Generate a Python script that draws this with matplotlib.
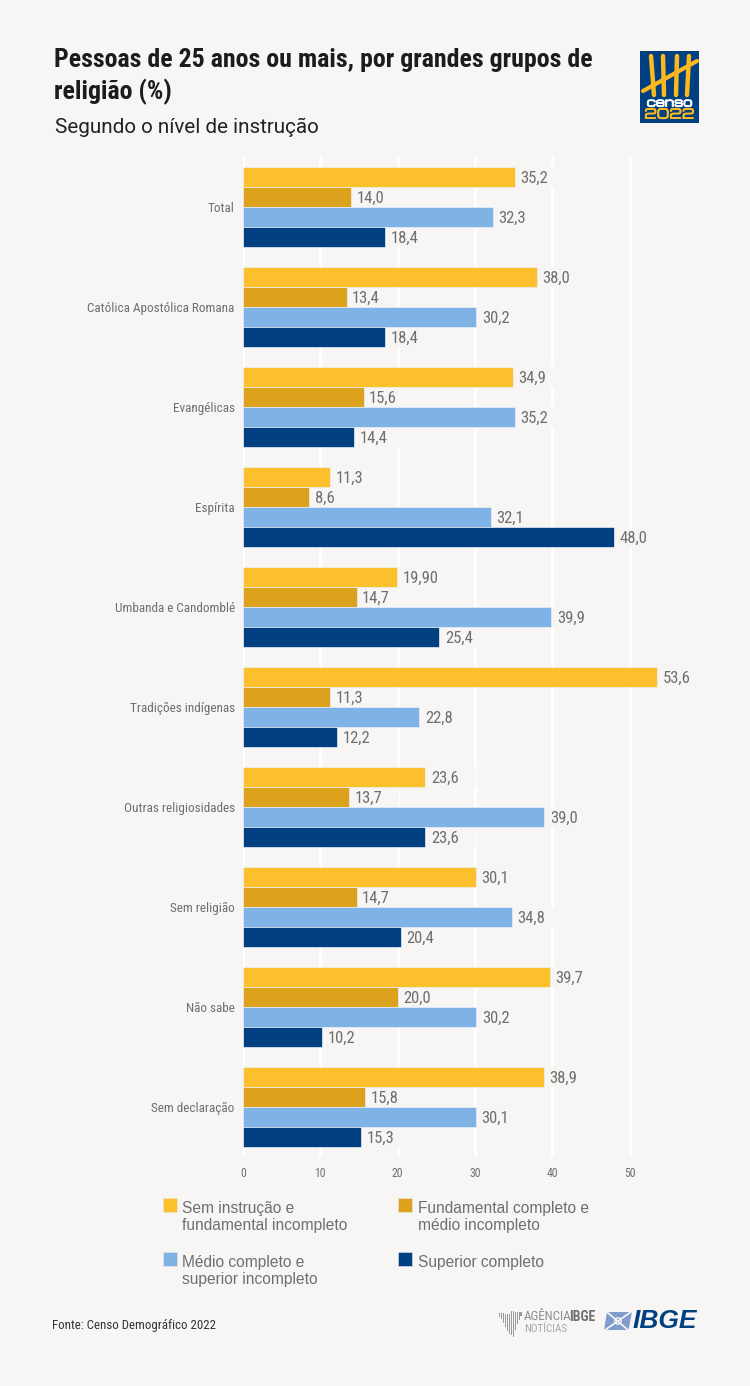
import matplotlib
matplotlib.use("Agg")
import matplotlib.pyplot as plt
import matplotlib.patheffects as pe
from matplotlib.patches import Rectangle, Polygon, Circle
import numpy as np

W, H = 750, 1386
BG = "#F7F6F4"
GREY = "#6F6F6F"

categories = ["Total", "Católica Apostólica Romana", "Evangélicas", "Espírita",
              "Umbanda e Candomblé", "Tradições indígenas", "Outras religiosidades",
              "Sem religião", "Não sabe", "Sem declaração"]
sem_instrucao = [35.2, 38.0, 34.9, 11.3, 19.9, 53.6, 23.6, 30.1, 39.7, 38.9]
fundamental = [14.0, 13.4, 15.6, 8.6, 14.7, 11.3, 13.7, 14.7, 20.0, 15.8]
medio = [32.3, 30.2, 35.2, 32.1, 39.9, 22.8, 39.0, 34.8, 30.2, 30.1]
superior = [18.4, 18.4, 14.4, 48.0, 25.4, 12.2, 23.6, 20.4, 10.2, 15.3]
series_names = ["Sem instrução e\nfundamental incompleto",
                "Fundamental completo e\nmédio incompleto",
                "Médio completo e\nsuperior incompleto",
                "Superior completo"]
series_colors = ["#FCC02D", "#DCA11D", "#7FB2E5", "#004080"]
x_ticks = [0, 10, 20, 30, 40, 50]

NARROW = ["Roboto Condensed", "Archivo Narrow", "Liberation Sans", "DejaVu Sans"]
WIDE = ["Liberation Sans", "DejaVu Sans"]

fig = plt.figure(figsize=(W / 100, H / 100), dpi=100, facecolor=BG)

def px_axes(l, t, r, b):
    return fig.add_axes([l / W, 1 - b / H, (r - l) / W, (b - t) / H])

PXU = 7.73
ax = px_axes(243, 157, 705, 1157)
ax.set_facecolor(BG)
ax.set_xlim(0, 462 / PXU)
ax.set_ylim(9.5, -0.5)
for s in ax.spines.values():
    s.set_visible(False)
ax.set_xticks(x_ticks)
ax.set_xticklabels([str(v) for v in x_ticks], family=NARROW, fontsize=8.5, color=GREY)
ax.tick_params(axis="x", length=0, pad=7)
ax.set_yticks(range(len(categories)))
ax.set_yticklabels(categories, family=NARROW, fontsize=9.5, color=GREY)
ax.tick_params(axis="y", length=0, pad=6)
ax.grid(axis="x", color="white", lw=2)
ax.set_axisbelow(True)

all_series = [sem_instrucao, fundamental, medio, superior]
offsets = [-0.3, -0.1, 0.1, 0.3]
y = np.arange(len(categories))
for vals, off, col in zip(all_series, offsets, series_colors):
    # background strip behind each value label hides the gridline, as in the reference
    ax.barh(y + off, [6.5] * len(vals), left=vals, height=0.2, color=BG, lw=0, zorder=2)
    ax.barh(y + off, vals, height=0.2, color=col, edgecolor="#EAF0F8", lw=0.5, zorder=3)
    for yi, v in zip(y, vals):
        txt = f"{v:.1f}".replace(".", ",")
        if col == series_colors[0] and abs(v - 19.9) < 1e-9:
            txt = "19,90"
        ax.text(v + 0.72, yi + off + 0.01, txt, va="center", ha="left", family=NARROW,
                fontsize=12, color=GREY, zorder=4)

ov = fig.add_axes([0, 0, 1, 1], facecolor="none")
ov.set_xlim(0, W)
ov.set_ylim(H, 0)
ov.axis("off")

ov.text(54.5, 60.5, "Pessoas de 25 anos ou mais, por grandes grupos de", family=NARROW,
        fontsize=18.6, fontweight="bold", color="#1C1C1C", va="center")
ov.text(54.5, 91.5, "religião (%)", family=NARROW, fontsize=18.6, fontweight="bold",
        color="#1C1C1C", va="center")
ov.text(55, 127.5, "Segundo o nível de instrução", family=["Roboto", "Liberation Sans"], fontsize=14.9,
        color="#222222", va="center")

leg_pos = [(163, 1198), (398, 1198), (163, 1252), (398, 1252)]
for (lx, ly), name, col in zip(leg_pos, series_names, series_colors):
    ov.add_patch(Rectangle((lx, ly), 14, 14, fc=col, ec="#E8E8E8", lw=0.4))
    for i, line in enumerate(name.split("\n")):
        ov.text(lx + 19.5, ly + 10 + i * 17.5, line, family=WIDE, fontsize=11.2,
                color=GREY, va="center")

ov.text(52, 1325, "Fonte: Censo Demográfico 2022", family=NARROW, fontsize=9.3,
        color="#333333", va="center")

# Censo 2022 logo
BLUE = "#004080"
YEL = "#FBB81F"
ov.add_patch(Rectangle((640, 51), 59, 72, fc=BLUE, ec="none"))
for xa, xb in [(651, 654), (663, 664), (677, 676), (689, 687)]:
    ov.plot([xa, xb], [56, 95], color=YEL, lw=3.2, solid_capstyle="round")
ov.plot([643, 697], [91, 61], color=YEL, lw=3.0, solid_capstyle="round")
for label, yy, c, fs in [("censo", 103, "white", 8.5), ("2022", 115, YEL, 9.5)]:
    ov.text(669.5, yy, label, family=["Michroma", "DejaVu Sans"], fontsize=fs, color=c,
            ha="center", va="center", path_effects=[pe.withStroke(linewidth=0.7, foreground=c)])

# Agência IBGE mark
mark_heights = [4, 6, 10, 13, 17, 20, 24, 26, 18, 12, 8, 4]
for i, h in enumerate(mark_heights):
    ov.add_patch(Rectangle((499 + i * 1.95, 1311 + (i < 6) * 3 + (i - 5) * 0.2), 1.3, h,
                           fc="#9A9A9A", ec="none"))
ov.text(524, 1317, "AGÊNCIA", family=NARROW, fontsize=9.4, color="#8E8E8E", va="center")
ov.text(569, 1317, "IBGE", family=NARROW, fontsize=10, fontweight="bold", color="#707070", va="center")
ov.text(524, 1329, "NOTÍCIAS", family=NARROW, fontsize=8, color="#A8A8A8", va="center")

# IBGE logo
ov.add_patch(Polygon([(607, 1312), (632, 1312), (628.5, 1330), (604, 1330)], fc="#7F9CCB", ec="none"))
ov.plot([605, 631], [1330, 1312], color=BG, lw=1.2)
ov.plot([607, 628], [1312, 1330], color=BG, lw=1.2)
ov.add_patch(Circle((618, 1321), 3.2, fc="#7F9CCB", ec=BG, lw=1))
ov.text(633, 1320.5, "IBGE", family=WIDE, fontsize=19, fontweight="bold", fontstyle="italic",
        color="#004080", va="center")

fig.savefig("out.png", dpi=100, facecolor=BG)
